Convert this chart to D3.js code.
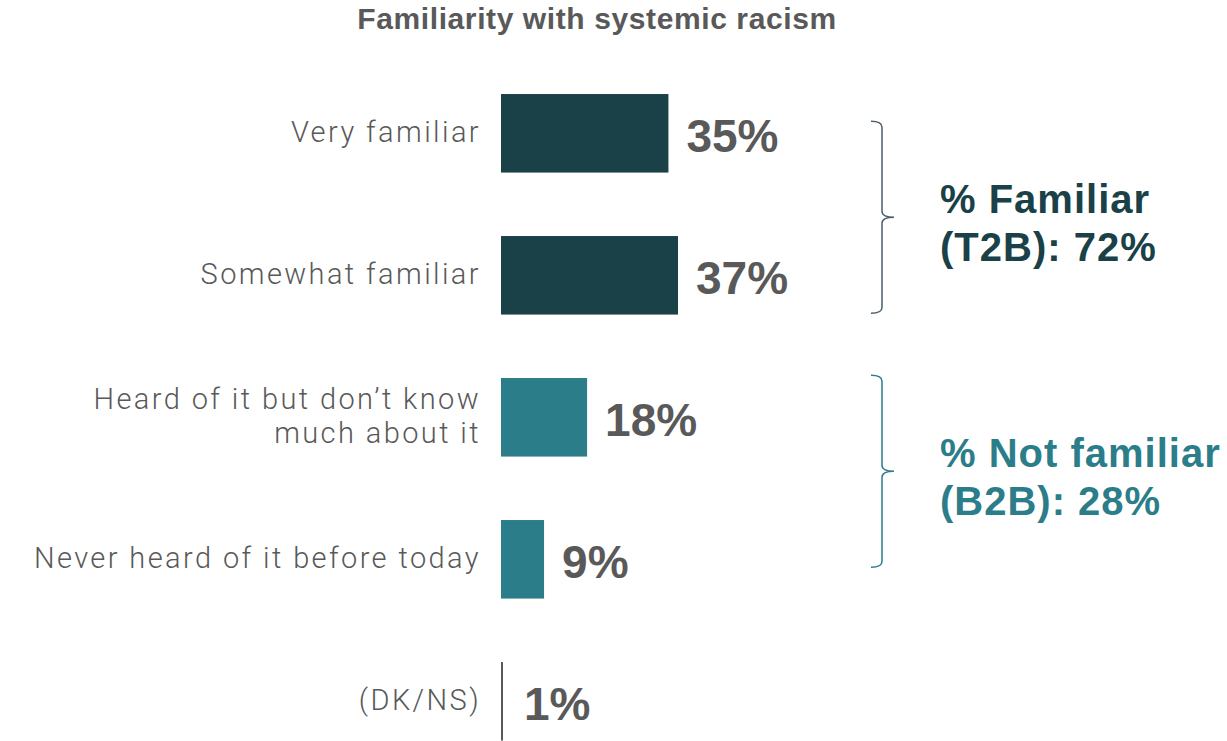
<!DOCTYPE html>
<html>
<head>
<meta charset="utf-8">
<script src="https://cdn.jsdelivr.net/npm/d3@7"></script>
<style>
  body { margin: 0; background: #fff; }
  svg { display: block; }
</style>
</head>
<body>
<script>
// chart data
var categories = ["Very familiar", "Somewhat familiar", "Heard of it but don\u2019t know much about it", "Never heard of it before today", "(DK/NS)"];
var labelLines = [["Very familiar"], ["Somewhat familiar"], ["Heard of it but don\u2019t know", "much about it"], ["Never heard of it before today"], ["(DK/NS)"]];
var values = [35, 37, 18, 9, 1];
var barColors = ["#1a4048", "#1a4048", "#2b7d8a", "#2b7d8a", "#595959"];
// groups: first row, last row, text lines, colour
var groupFrom = [0, 2];
var groupTo = [1, 3];
var groupText = [["% Familiar", "(T2B): 72%"], ["% Not familiar", "(B2B): 28%"]];
var groupColors = ["#1a4048", "#2b7d8a"];
var bracketColors = ["#4a5f6b", "#2b7d8a"];

var width = 1227, height = 741;

var svg = d3.select("body").append("svg")
  .attr("width", width)
  .attr("height", height);

var x = d3.scaleLinear().domain([0, 37]).range([501, 678]);
var y = d3.scaleBand().domain(categories).range([62.3, 772.3])
  .paddingInner(0.447).paddingOuter(0.2235);
var rowPos = d3.scaleLinear().domain([0, 1]).range([y(categories[0]) + y.bandwidth() / 2, y(categories[1]) + y.bandwidth() / 2]);

// title
svg.append("text")
  .attr("x", 597).attr("y", 29)
  .attr("text-anchor", "middle")
  .style("font-family", "'Liberation Sans', Arial, sans-serif")
  .style("font-weight", "bold")
  .style("font-size", "30px")
  .style("letter-spacing", "0.6px")
  .style("fill", "#595959")
  .text("Familiarity with systemic racism");

// bars
svg.selectAll("rect.bar")
  .data(categories)
  .enter().append("rect")
  .attr("class", "bar")
  .attr("x", x(0))
  .attr("y", function(d) { return y(d); })
  .attr("width", function(d, i) { return i == 4 ? 2 : x(values[i]) - x(0); })
  .attr("height", y.bandwidth())
  .style("fill", function(d, i) { return barColors[i]; });

// value labels
svg.selectAll("text.val")
  .data(categories)
  .enter().append("text")
  .attr("class", "val")
  .attr("x", function(d, i) { return (i == 4 ? x(0) + 2 + 3 : x(values[i])) + 18; })
  .attr("y", function(d) { return y(d) + y.bandwidth() / 2 + 19; })
  .style("font-family", "'Liberation Sans', Arial, sans-serif")
  .style("font-weight", "bold")
  .style("font-size", "46px")
  .style("fill", "#595959")
  .text(function(d, i) { return values[i] + "%"; });

// category labels
var lab = svg.selectAll("text.cat")
  .data(categories)
  .enter().append("text")
  .attr("class", "cat")
  .attr("text-anchor", "end")
  .style("font-family", "Roboto, 'Liberation Sans', sans-serif")
  .style("font-weight", "300")
  .style("font-size", "29px")
  .style("letter-spacing", "2.4px")
  .style("fill", "#595959");

lab.each(function(d, i) {
  var lines = labelLines[i];
  var cy = y(d) + y.bandwidth() / 2;
  var lh = 34;
  var y0 = cy + 9 - (lines.length - 1) * lh / 2;
  var t = d3.select(this);
  lines.forEach(function(s, j) {
    t.append("tspan").attr("x", 481).attr("y", y0 + j * lh).text(s);
  });
});

// brackets
groupFrom.forEach(function(g, k) {
  var top = rowPos(g) - (k == 0 ? 12 : 42);
  var bot = rowPos(groupTo[k]) + (k == 0 ? 38 : 8);
  var mid = (top + bot) / 2;
  var xl = 871, xv = 882, xt = 894;
  var p = d3.path();
  p.moveTo(xl, top);
  p.quadraticCurveTo(xv, top, xv, top + 6);
  p.lineTo(xv, mid - 6);
  p.quadraticCurveTo(xv, mid, xt, mid);
  p.moveTo(xt, mid);
  p.quadraticCurveTo(xv, mid, xv, mid + 6);
  p.lineTo(xv, bot - 6);
  p.quadraticCurveTo(xv, bot, xl, bot);
  svg.append("path")
    .attr("d", p.toString())
    .style("fill", "none")
    .style("stroke", bracketColors[k])
    .style("stroke-width", 1.5);

  var txt = svg.append("text")
    .style("font-family", "'Liberation Sans', Arial, sans-serif")
    .style("font-weight", "bold")
    .style("font-size", "40px")
    .style("letter-spacing", "1px")
    .style("fill", groupColors[k]);
  groupText[k].forEach(function(s, j) {
    txt.append("tspan").attr("x", 940).attr("y", mid - 4 + j * 48).text(s);
  });
});
</script>
</body>
</html>
